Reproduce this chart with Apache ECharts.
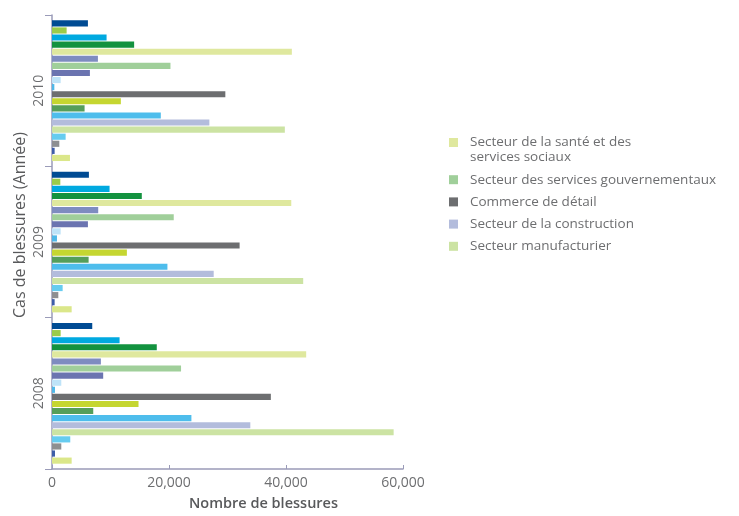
<!DOCTYPE html>
<html>
<head>
<meta charset="utf-8">
<script src="https://cdn.jsdelivr.net/npm/echarts@6/dist/echarts.min.js"></script>
<style>
  html, body { margin: 0; padding: 0; background: #fff; }
  #chart { width: 739px; height: 516px; }
</style>
</head>
<body>
<div id="chart"></div>
<script>
// années, de bas en haut
var years = ['2008', '2009', '2010'];
var xTicks = [0, 20000, 40000, 60000];

// séries de haut en bas dans chaque groupe (valeurs 2008, 2009, 2010)
var seriesNames = [
  'Autre secteur A', 'Autre secteur B', 'Autre secteur C', 'Autre secteur D',
  'Secteur de la santé et des\nservices sociaux', 'Autre secteur E',
  'Secteur des services gouvernementaux', 'Autre secteur F', 'Autre secteur G',
  'Autre secteur H', 'Commerce de détail', 'Autre secteur I', 'Autre secteur J',
  'Autre secteur K', 'Secteur de la construction', 'Secteur manufacturier',
  'Autre secteur L', 'Autre secteur M', 'Autre secteur N', 'Autre secteur O'
];
var seriesValues = [
  [6880, 6310, 6140],
  [1480, 1420, 2500],
  [11550, 9840, 9330],
  [17910, 15350, 14040],
  [43450, 40900, 41000],
  [8360, 7900, 7850],
  [22060, 20810, 20250],
  [8750, 6140, 6480],
  [1590, 1480, 1480],
  [510, 850, 400],
  [37410, 32070, 29630],
  [14790, 12800, 11770],
  [7050, 6260, 5570],
  [23830, 19730, 18600],
  [33900, 27640, 26900],
  [58400, 42940, 39800],
  [3120, 1820, 2330],
  [1590, 1080, 1250],
  [510, 450, 450],
  [3360, 3360, 3070]
];
var seriesColors = [
  '#004b93', '#9bcb4a', '#00a9e0', '#13923f',
  '#dfe89e', '#7e8cc0', '#a0cf9a', '#6b74b0',
  '#bee3f8', '#4fb8e8', '#6d6e70', '#c5d631',
  '#559e5a', '#4ebdec', '#b3bcdc', '#cce3a3',
  '#66ccf0', '#8e8f91', '#3e5da8', '#dbe78a'
];
var legendNames = [
  'Secteur de la santé et des\nservices sociaux',
  'Secteur des services gouvernementaux',
  'Commerce de détail',
  'Secteur de la construction',
  'Secteur manufacturier'
];

var axisColor = '#9a9bb8';
var textColor = '#6d6e70';
var font = 'Open Sans';

var series = [];
for (var i = 0; i < seriesNames.length; i++) {
  series.push({
    type: 'bar',
    name: seriesNames[i],
    data: seriesValues[i],
    barGap: '15%',
    barCategoryGap: '7%',
    itemStyle: { color: seriesColors[i] }
  });
}

var chart = echarts.init(document.getElementById('chart'));
chart.setOption({
  animation: false,
  textStyle: { fontFamily: font },
  grid: { left: 52, top: 15, right: 336, bottom: 43, containLabel: false },
  legend: {
    data: legendNames,
    orient: 'vertical',
    left: 444,
    top: 115,
    itemWidth: 9,
    itemHeight: 9,
    itemGap: 7.2,
    icon: 'rect',
    // une ligne vide en tête pour que la case reste sur la première ligne
    formatter: function (name) {
      return name.indexOf('\n') >= 0 ? '{z| }\n' + name : name;
    },
    textStyle: {
      color: textColor, fontSize: 13.5, lineHeight: 15, fontFamily: font,
      padding: [0, 0, 0, 7],
      rich: { z: { fontSize: 13.5, lineHeight: 15 } }
    }
  },
  xAxis: {
    type: 'value',
    min: 0,
    max: 60000,
    interval: 20000,
    name: 'Nombre de blessures',
    nameLocation: 'middle',
    nameGap: 27,
    nameTextStyle: { color: '#58595b', fontSize: 14.5, fontWeight: 600, fontFamily: font, padding: [0, 0, 0, 72] },
    axisLine: { show: true, lineStyle: { color: axisColor, width: 1.5 } },
    axisTick: { show: true, inside: true, length: 4, lineStyle: { color: axisColor } },
    axisLabel: {
      color: textColor, fontSize: 14, margin: 7,
      formatter: function (v) { return v === 0 ? '0' : v.toLocaleString('en-US'); }
    },
    splitLine: { show: false }
  },
  yAxis: {
    type: 'category',
    data: years,
    name: 'Cas de blessures (Année)',
    nameLocation: 'middle',
    nameGap: 24,
    nameRotate: 90,
    nameTextStyle: { color: '#58595b', fontSize: 16, fontFamily: font, padding: [0, 0, 0, 34] },
    axisLine: { show: true, lineStyle: { color: axisColor, width: 1.5 } },
    axisTick: { show: true, length: 7, lineStyle: { color: axisColor } },
    axisLabel: { color: textColor, fontSize: 14, rotate: 90, margin: 6 }
  },
  series: series
});
</script>
</body>
</html>
